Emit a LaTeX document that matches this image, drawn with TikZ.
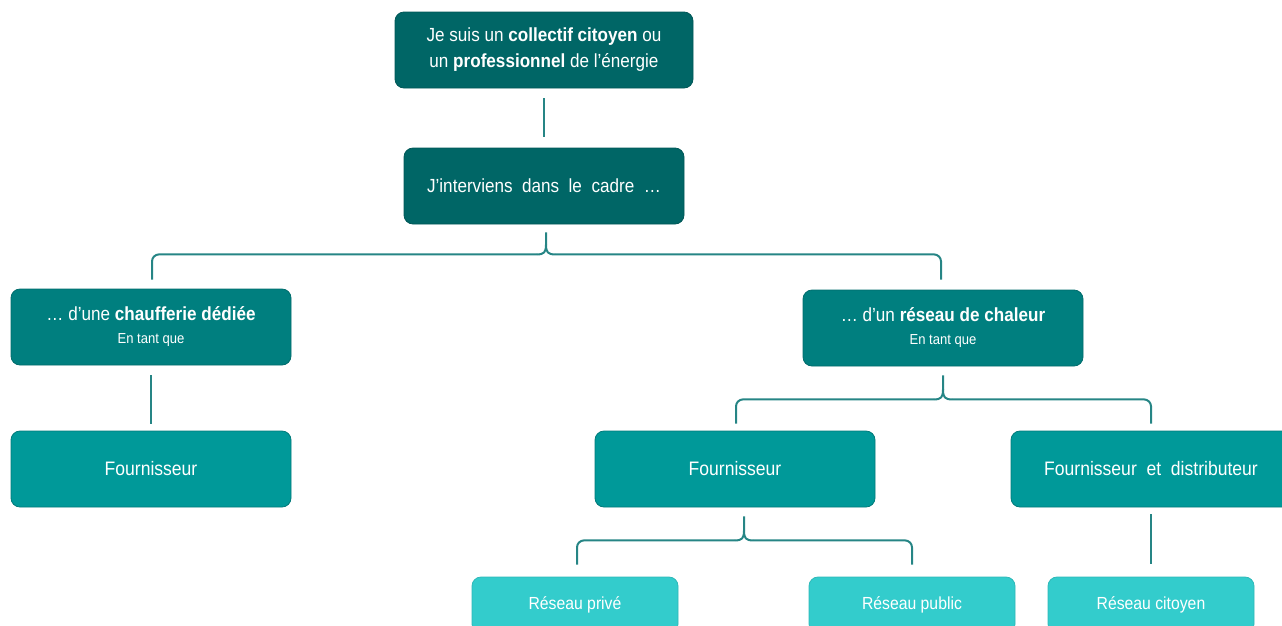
\documentclass[tikz,border=0pt]{standalone}
\usepackage{fontspec}
\setmainfont{Liberation Sans}[FakeStretch=0.9]
\usetikzlibrary{calc}
\definecolor{cA}{HTML}{006666}
\definecolor{cB}{HTML}{007F7F}
\definecolor{cC}{HTML}{009999}
\definecolor{cD}{HTML}{33CCCC}
\definecolor{cL}{HTML}{268585}
\newcommand{\subline}{\fontsize{14.5}{17}\selectfont}
\begin{document}
\begin{tikzpicture}[x=1pt,y=-1pt,
  base/.style={rounded corners=9pt, line width=0.8pt, text=white, align=center, inner sep=0pt},
  lvlA/.style={base, fill=cA, draw=cA!85!black, minimum width=298pt, minimum height=76pt, font=\fontsize{19}{26}\selectfont},
  lvlB/.style={base, fill=cB, draw=cB!85!black, minimum width=280pt, minimum height=76pt, font=\fontsize{19}{23}\selectfont},
  lvlC/.style={base, fill=cC, draw=cC!80!black, minimum width=280pt, minimum height=76pt, font=\fontsize{19.5}{23}\selectfont},
  lvlD/.style={base, fill=cD, draw=cD!90!black, minimum width=206pt, minimum height=56pt, font=\fontsize{17.5}{21}\selectfont},
  conn/.style={draw=cL, line width=2pt},
  brace/.style={conn, rounded corners=7pt},
  cusp/.style={conn, line join=round}]
\useasboundingbox (0,0) rectangle (1282,625);
\node[lvlA] (top) at (544,50) {Je suis un \textbf{collectif citoyen} ou\\un \textbf{professionnel} de l’énergie};
\node[lvlA, minimum width=280pt] (cadre) at (544,186) {J’interviens~ dans~ le~ cadre~ …};
\node[lvlB] (chauf) at (151,327) {… d’une \textbf{chaufferie dédiée}\\{\subline En tant que}};
\node[lvlB] (reseau) at (943,328) {… d’un \textbf{réseau de chaleur}\\{\subline En tant que}};
\node[lvlC] (fourA) at (151,469) {Fournisseur};
\node[lvlC] (fourB) at (735,469) {Fournisseur};
\node[lvlC] (fourC) at (1151,469) {Fournisseur~ et~ distributeur};
\node[lvlD] (prive) at (575,605) {Réseau privé};
\node[lvlD] (public) at (912,605) {Réseau public};
\node[lvlD] (citoyen) at (1151,605) {Réseau citoyen};
% straight connectors
\draw[conn] ($(top.south)+(0,10)$) -- ($(cadre.north)+(0,-11)$);
\draw[conn] ($(chauf.south)+(0,10)$) -- ($(fourA.north)+(0,-7)$);
\draw[conn] ($(fourC.south)+(0,7)$) -- ($(citoyen.north)+(0,-13)$);
% brace 1
\coordinate (P1) at ($(cadre.south)+(2,8)$);
\coordinate (M1) at ($(P1)+(0,22)$);
\coordinate (L1) at ($(chauf.north)+(1,-9)$);
\coordinate (R1) at ($(reseau.north)+(-2,-10)$);
\draw[brace] (L1) |- ($(M1)+(-9,0)$);
\draw[brace] (R1) |- ($(M1)+(9,0)$);
\draw[cusp] ($(M1)+(-9,0)$) .. controls ($(M1)+(-2,0)$) and ($(M1)+(0,-2)$) .. ($(M1)+(0,-10)$) -- (P1);
\draw[cusp] ($(M1)+(9,0)$) .. controls ($(M1)+(2,0)$) and ($(M1)+(0,-2)$) .. ($(M1)+(0,-10)$);
% brace 2
\coordinate (P2) at ($(reseau.south)+(0,9)$);
\coordinate (M2) at ($(P2)+(0,24)$);
\coordinate (L2) at ($(fourB.north)+(1,-7)$);
\coordinate (R2) at ($(fourC.north)+(0,-7)$);
\draw[brace] (L2) |- ($(M2)+(-9,0)$);
\draw[brace] (R2) |- ($(M2)+(9,0)$);
\draw[cusp] ($(M2)+(-9,0)$) .. controls ($(M2)+(-2,0)$) and ($(M2)+(0,-2)$) .. ($(M2)+(0,-10)$) -- (P2);
\draw[cusp] ($(M2)+(9,0)$) .. controls ($(M2)+(2,0)$) and ($(M2)+(0,-2)$) .. ($(M2)+(0,-10)$);
% brace 3
\coordinate (P3) at ($(fourB.south)+(9,9)$);
\coordinate (M3) at ($(P3)+(0,24)$);
\coordinate (L3) at ($(prive.north)+(2,-12)$);
\coordinate (R3) at ($(public.north)+(0,-12)$);
\draw[brace] (L3) |- ($(M3)+(-9,0)$);
\draw[brace] (R3) |- ($(M3)+(9,0)$);
\draw[cusp] ($(M3)+(-9,0)$) .. controls ($(M3)+(-2,0)$) and ($(M3)+(0,-2)$) .. ($(M3)+(0,-10)$) -- (P3);
\draw[cusp] ($(M3)+(9,0)$) .. controls ($(M3)+(2,0)$) and ($(M3)+(0,-2)$) .. ($(M3)+(0,-10)$);
\end{tikzpicture}
\end{document}
